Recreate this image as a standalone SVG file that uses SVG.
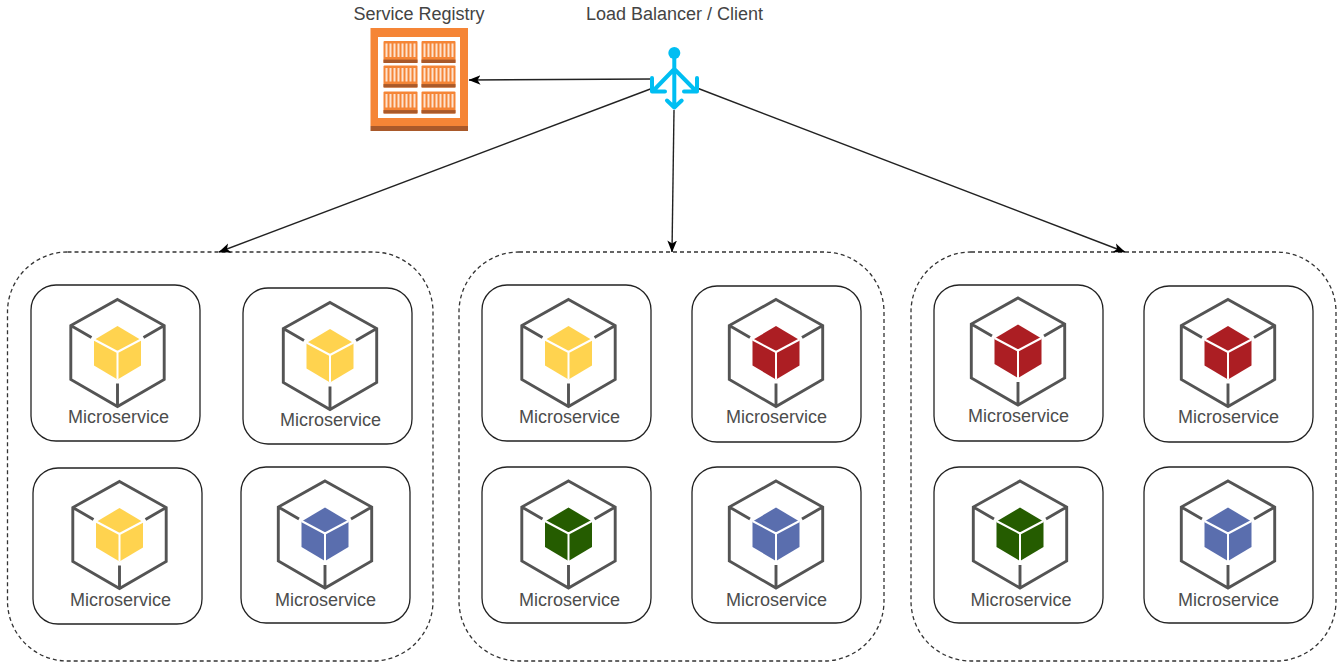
<svg xmlns="http://www.w3.org/2000/svg" xmlns:xlink="http://www.w3.org/1999/xlink" width="1340" height="663" viewBox="0 0 1340 663">
<style>
.t{font-family:"Liberation Sans",Arial,sans-serif;font-size:18px;fill:#4d4d4d;text-anchor:middle}
.h{font-family:"Liberation Sans",Arial,sans-serif;font-size:18px;fill:#444;text-anchor:middle}
.group{fill:#fff;stroke:#333;stroke-width:1.3;stroke-dasharray:4 3}
.card{fill:#fff;stroke:#222;stroke-width:1.3}
.frame{fill:none;stroke:#545454;stroke-width:2.9;stroke-linejoin:miter}
.c{fill:none;stroke:#222;stroke-width:1.4}
.y{fill:#ffd34f}.r{fill:#ac1e23}.g{fill:#255c00}.b{fill:#5a6eae}
.lb{fill:none;stroke:#00bef2;stroke-width:4;stroke-linecap:round;stroke-linejoin:round}
</style>
<defs>
<marker id="arrow" viewBox="0 0 12 12" refX="11.500" refY="6" markerWidth="12" markerHeight="12" markerUnits="userSpaceOnUse" orient="auto"><path d="M0,1.200 L12,6 L0,10.800 L3,6 Z" fill="#000"/></marker>
<g id="frame"><path class="frame" d="M0,0 L46.700,26 V80 L0,107 L-46.700,80 V26 Z M-46.700,26 L-26,38 M46.700,26 L26,38 M0,107 V84"/></g>
<path id="cube" d="M0,26.500 L23.500,40.500 V66 L0,80 L-23.500,66 V40.500 Z"/>
<g id="cubelines"><path d="M-23.500,40 L0,52.500 L23.500,40 M0,52.500 V80" fill="none" stroke="#fff" stroke-width="2"/></g>
<g id="panel"><rect width="34" height="22" rx="1" fill="#f58536"/><rect y="18.600" width="34" height="3.400" fill="#a9592a"/><path d="M3,2.500V16M7,2.500V16M11,2.500V16M15,2.500V16M19,2.500V16M23,2.500V16M27,2.500V16M31,2.500V16" stroke="#fde3d0" stroke-width="2" fill="none"/></g>
</defs>

<g id="group1"><rect class="group" x="7.500" y="252" width="425.500" height="409" rx="60"/></g>
<g id="group2"><rect class="group" x="459" y="252" width="425" height="409" rx="60"/></g>
<g id="group3"><rect class="group" x="911" y="252" width="425" height="409" rx="60"/></g>

<g id="connectors">
<path class="c" d="M653,79 L469,80" marker-end="url(#arrow)"/>
<path class="c" d="M653,88 L219,252" marker-end="url(#arrow)"/>
<path class="c" d="M674,110 L672,252" marker-end="url(#arrow)"/>
<path class="c" d="M697,88 L1125,252" marker-end="url(#arrow)"/>
</g>

<g id="registry">
<rect x="370.500" y="28" width="97.500" height="98" fill="#f58536"/>
<rect x="370.500" y="126" width="97.500" height="5" fill="#a9592a"/>
<rect x="378" y="37" width="82" height="81" fill="#fff"/>
<use href="#panel" x="383.500" y="41"/><use href="#panel" x="421.500" y="41"/>
<use href="#panel" x="383.500" y="65.500"/><use href="#panel" x="421.500" y="65.500"/>
<use href="#panel" x="383.500" y="91.500"/><use href="#panel" x="421.500" y="91.500"/>
<text class="h" x="419" y="20">Service Registry</text>
</g>

<g id="balancer">
<circle cx="674.300" cy="53" r="6" fill="#00bef2"/>
<path class="lb" d="M674.300,55 V107.500 M667,100.500 L674.300,107.500 L681.700,100.500 M674.300,69 L653,91 M652,78 V91.500 H665 M674.300,69 L696,91 M697,78 V91.500 H684"/>
<text class="h" x="674.500" y="20">Load Balancer / Client</text>
</g>

<g id="ms1"><rect class="card" x="31" y="285" width="169" height="156" rx="25"/><use href="#frame" x="117.500" y="299.500"/><use href="#cube" class="y" x="117.500" y="299.500"/><use href="#cubelines" x="117.500" y="299.500"/><text class="t" x="118.500" y="423">Microservice</text></g>
<g id="ms2"><rect class="card" x="243" y="288" width="169" height="156" rx="25"/><use href="#frame" x="330" y="302.500"/><use href="#cube" class="y" x="330" y="302.500"/><use href="#cubelines" x="330" y="302.500"/><text class="t" x="330.500" y="426">Microservice</text></g>
<g id="ms3"><rect class="card" x="33" y="468" width="169" height="156" rx="25"/><use href="#frame" x="119.500" y="481.500"/><use href="#cube" class="y" x="119.500" y="481.500"/><use href="#cubelines" x="119.500" y="481.500"/><text class="t" x="120.500" y="606">Microservice</text></g>
<g id="ms4"><rect class="card" x="241" y="467" width="169" height="156" rx="25"/><use href="#frame" x="325" y="481"/><use href="#cube" class="b" x="325" y="481"/><use href="#cubelines" x="325" y="481"/><text class="t" x="325.500" y="606">Microservice</text></g>

<g id="ms5"><rect class="card" x="482" y="285" width="169" height="156" rx="25"/><use href="#frame" x="568.500" y="299.500"/><use href="#cube" class="y" x="568.500" y="299.500"/><use href="#cubelines" x="568.500" y="299.500"/><text class="t" x="569.500" y="423">Microservice</text></g>
<g id="ms6"><rect class="card" x="692" y="286" width="169" height="156" rx="25"/><use href="#frame" x="776" y="299.500"/><use href="#cube" class="r" x="776" y="299.500"/><use href="#cubelines" x="776" y="299.500"/><text class="t" x="776.500" y="423">Microservice</text></g>
<g id="ms7"><rect class="card" x="482" y="467" width="169" height="156" rx="25"/><use href="#frame" x="568.500" y="481"/><use href="#cube" class="g" x="568.500" y="481"/><use href="#cubelines" x="568.500" y="481"/><text class="t" x="569.500" y="606">Microservice</text></g>
<g id="ms8"><rect class="card" x="692" y="467" width="169" height="156" rx="25"/><use href="#frame" x="776" y="481"/><use href="#cube" class="b" x="776" y="481"/><use href="#cubelines" x="776" y="481"/><text class="t" x="776.500" y="606">Microservice</text></g>

<g id="ms9"><rect class="card" x="934" y="285" width="169" height="156" rx="25"/><use href="#frame" x="1018" y="298"/><use href="#cube" class="r" x="1018" y="298"/><use href="#cubelines" x="1018" y="298"/><text class="t" x="1018.500" y="421.500">Microservice</text></g>
<g id="ms10"><rect class="card" x="1144" y="286" width="169" height="156" rx="25"/><use href="#frame" x="1228" y="299.500"/><use href="#cube" class="r" x="1228" y="299.500"/><use href="#cubelines" x="1228" y="299.500"/><text class="t" x="1228.500" y="423">Microservice</text></g>
<g id="ms11"><rect class="card" x="934" y="467" width="169" height="156" rx="25"/><use href="#frame" x="1020" y="481"/><use href="#cube" class="g" x="1020" y="481"/><use href="#cubelines" x="1020" y="481"/><text class="t" x="1021" y="606">Microservice</text></g>
<g id="ms12"><rect class="card" x="1144" y="467" width="169" height="156" rx="25"/><use href="#frame" x="1228" y="481"/><use href="#cube" class="b" x="1228" y="481"/><use href="#cubelines" x="1228" y="481"/><text class="t" x="1228.500" y="606">Microservice</text></g>
</svg>
